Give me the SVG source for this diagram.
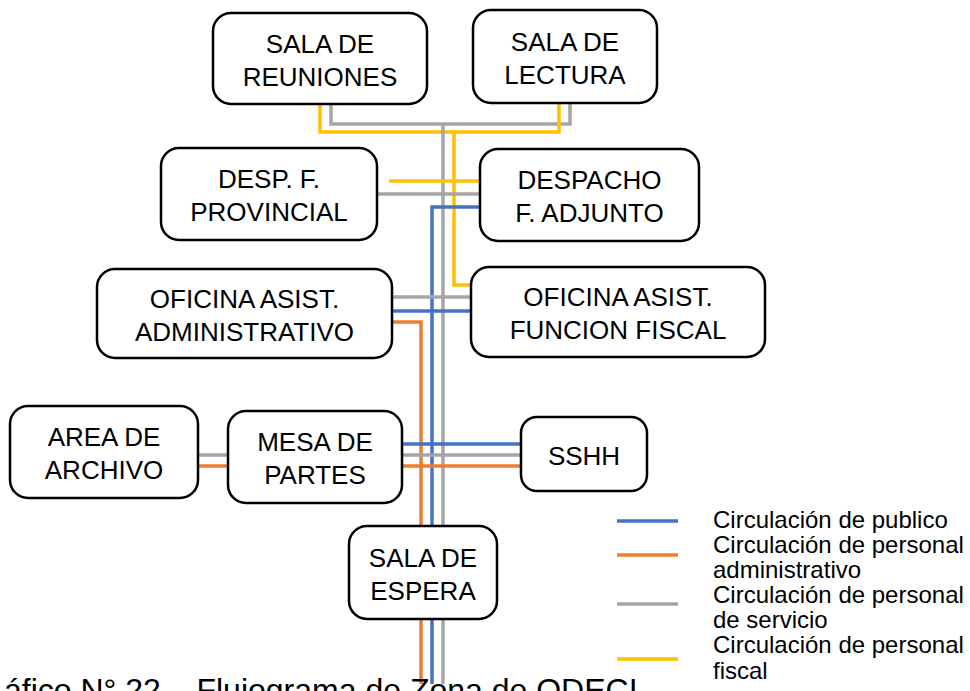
<svg xmlns="http://www.w3.org/2000/svg" width="970" height="691" viewBox="0 0 970 691">
<style>
.box{fill:#fff;stroke:#000;stroke-width:2.5}
.t{font-family:"Liberation Sans",Arial,sans-serif;font-size:26px;fill:#000;text-anchor:middle}
.lg{font-family:"Liberation Sans",Arial,sans-serif;font-size:24px;fill:#000}
.cap{font-family:"Liberation Sans",Arial,sans-serif;font-size:32px;fill:#000}
.c{fill:none;stroke-width:3.5;stroke-linejoin:miter}
.b{stroke:#4472C4}.o{stroke:#ED7D31}.g{stroke:#A5A5A5}.y{stroke:#FFC000}
</style>
<rect width="970" height="691" fill="#fff"/>
<g id="connectors">
<polyline class="c g" points="331,104 331,124 570,124 570,103"/>
<polyline class="c y" points="320,104 320,132 559,132 559,103"/>
<line class="c g" x1="443" y1="124" x2="443" y2="684"/>
<polyline class="c y" points="454,132 454,285 471,285"/>
<line class="c y" x1="389" y1="181" x2="480" y2="181"/>
<line class="c g" x1="377" y1="194" x2="480" y2="194"/>
<polyline class="c b" points="480,207 432,207 432,684"/>
<line class="c g" x1="392" y1="297" x2="471" y2="297"/>
<line class="c b" x1="392" y1="311" x2="471" y2="311"/>
<polyline class="c o" points="392,322 421,322 421,684"/>
<line class="c b" x1="402" y1="444" x2="521" y2="444"/>
<line class="c g" x1="402" y1="455" x2="521" y2="455"/>
<line class="c o" x1="402" y1="466" x2="521" y2="466"/>
<line class="c g" x1="198" y1="455" x2="228" y2="455"/>
<line class="c o" x1="198" y1="466" x2="228" y2="466"/>
</g>
<g id="sala-reuniones"><rect class="box" x="213" y="13" width="214" height="91" rx="18"/><text class="t" x="320" y="52.5">SALA DE</text><text class="t" x="320" y="85.5">REUNIONES</text></g>
<g id="sala-lectura"><rect class="box" x="473" y="10" width="184" height="93" rx="18"/><text class="t" x="565" y="50.5">SALA DE</text><text class="t" x="565" y="83.5">LECTURA</text></g>
<g id="desp-provincial"><rect class="box" x="161" y="148" width="216" height="92" rx="18"/><text class="t" x="269" y="188">DESP. F.</text><text class="t" x="269" y="221">PROVINCIAL</text></g>
<g id="despacho-adjunto"><rect class="box" x="480" y="149" width="219" height="92" rx="18"/><text class="t" x="589.5" y="189">DESPACHO</text><text class="t" x="589.5" y="222">F. ADJUNTO</text></g>
<g id="oficina-admin"><rect class="box" x="97" y="269" width="295" height="89" rx="18"/><text class="t" x="244.5" y="307.5">OFICINA ASIST.</text><text class="t" x="244.5" y="340.5">ADMINISTRATIVO</text></g>
<g id="oficina-fiscal"><rect class="box" x="471" y="267" width="294" height="90" rx="18"/><text class="t" x="618" y="306">OFICINA ASIST.</text><text class="t" x="618" y="339">FUNCION FISCAL</text></g>
<g id="area-archivo"><rect class="box" x="10" y="406" width="188" height="92" rx="18"/><text class="t" x="104" y="446">AREA DE</text><text class="t" x="104" y="479">ARCHIVO</text></g>
<g id="mesa-partes"><rect class="box" x="228" y="411" width="174" height="92" rx="18"/><text class="t" x="315" y="451">MESA DE</text><text class="t" x="315" y="484">PARTES</text></g>
<g id="sshh"><rect class="box" x="521" y="417" width="126" height="74" rx="16"/><text class="t" x="584" y="465">SSHH</text></g>
<g id="sala-espera"><rect class="box" x="349" y="526" width="148" height="93" rx="18"/><text class="t" x="423" y="566.5">SALA DE</text><text class="t" x="423" y="599.5">ESPERA</text></g>
<g id="legend">
<line class="c b" x1="617" y1="521" x2="678" y2="521"/>
<line class="c o" x1="617" y1="555" x2="678" y2="555"/>
<line class="c g" x1="617" y1="604" x2="678" y2="604"/>
<line class="c y" x1="617" y1="659" x2="678" y2="659"/>
<text class="lg" x="713" y="528">Circulación de publico</text>
<text class="lg" x="713" y="553">Circulación de personal</text>
<text class="lg" x="713" y="578">administrativo</text>
<text class="lg" x="713" y="603">Circulación de personal</text>
<text class="lg" x="713" y="628">de servicio</text>
<text class="lg" x="713" y="653">Circulación de personal</text>
<text class="lg" x="713" y="679">fiscal</text>
</g>
<text class="cap" x="4" y="701">áfico N° 22 – Flujograma de Zona de ODECI</text>
</svg>
